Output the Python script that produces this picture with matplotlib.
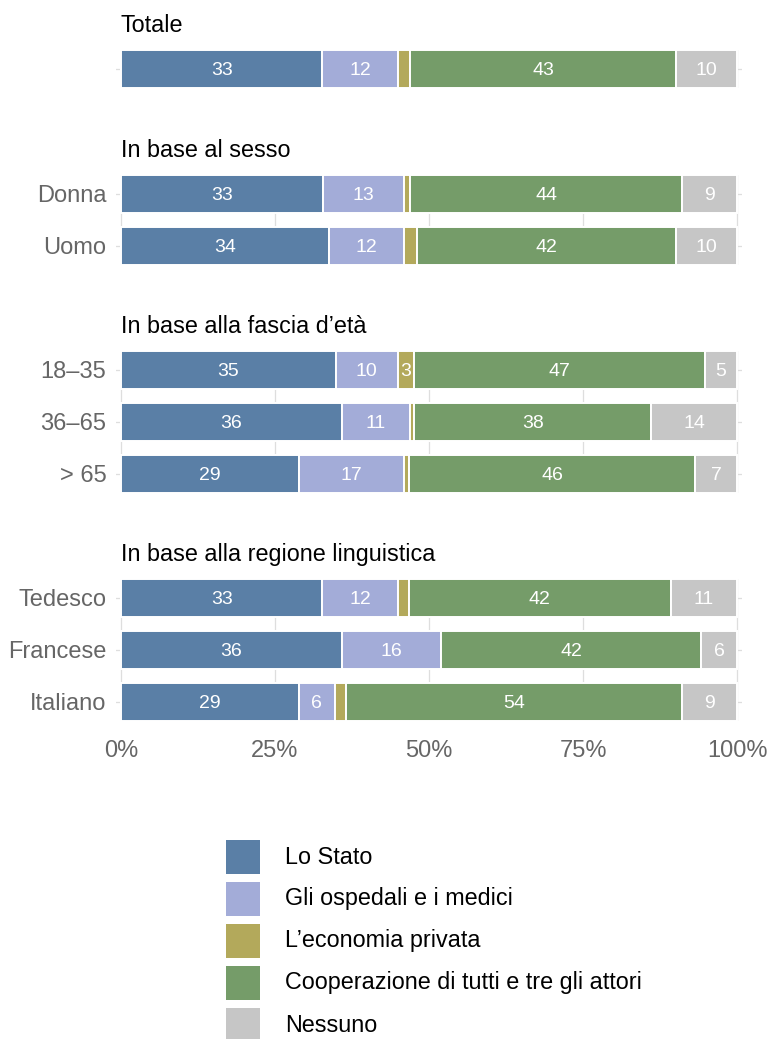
import matplotlib

matplotlib.use("Agg")
import matplotlib.pyplot as plt
from matplotlib.patches import Rectangle

plt.rcParams["font.family"] = ["Liberation Sans", "DejaVu Sans"]

# series names and colours
categories = ["Lo Stato", "Gli ospedali e i medici", "L’economia privata",
              "Cooperazione di tutti e tre gli attori", "Nessuno"]
colors = ["#5a7fa6", "#a3acd8", "#b3a95b", "#759c69", "#c6c6c6"]

# panels and their rows
panel_titles = ["Totale", "In base al sesso", "In base alla fascia d’età",
                "In base alla regione linguistica"]
panel_rows = [[""], ["Donna", "Uomo"], ["18–35", "36–65", "> 65"],
              ["Tedesco", "Francese", "Italiano"]]

# shares in %, one value per row (Totale, Donna, Uomo, 18-35, 36-65, >65,
# Tedesco, Francese, Italiano)
stato = [32.7, 32.8, 33.8, 34.9, 35.9, 28.9, 32.7, 35.9, 28.9]
ospedali = [12.3, 13.1, 12.1, 10.0, 11.0, 17.0, 12.3, 16.0, 5.8]
privata = [1.9, 1.0, 2.1, 2.7, 0.7, 0.9, 1.8, 0.0, 1.9]
coop = [43.2, 44.2, 42.1, 47.2, 38.5, 46.4, 42.4, 42.3, 54.4]
nessuno = [9.9, 8.9, 9.9, 5.2, 13.9, 6.8, 10.8, 5.8, 9.0]
series = [stato, ospedali, privata, coop, nessuno]

xticks = [0, 25, 50, 75, 100]
xticklabels = ["0%", "25%", "50%", "75%", "100%"]

W, H = 771, 1039
fig = plt.figure(figsize=(W / 100, H / 100), dpi=100)

row_px = 52
bar_h = 0.73
half = bar_h / 2
bar_tops = [50, 175, 351, 579]   # pixel top of first bar in each panel
left_px, right_px = 116, 742
grid_c = "#dedede"
label_c = "#666666"

start = 0
for p, (title, rows) in enumerate(zip(panel_titles, panel_rows)):
    n = len(rows)
    top = bar_tops[p]
    height = (n - 1 + bar_h) * row_px
    ax = fig.add_axes([left_px / W, 1 - (top + height) / H,
                       (right_px - left_px) / W, height / H])
    idx = list(range(start, start + n))
    start += n
    ypos = list(range(n))
    left = [0.0] * n
    for ser, col in zip(series, colors):
        vals = [ser[i] for i in idx]
        ax.barh(ypos, vals, left=left, height=bar_h, color=col,
                edgecolor="white", linewidth=1.4, zorder=2)
        for y, v, l0 in zip(ypos, vals, left):
            if v >= 2.5:
                ax.text(l0 + v / 2, y, f"{round(v)}", ha="center",
                        va="center_baseline", color="white", fontsize=14,
                        zorder=3)
        left = [a + b for a, b in zip(left, vals)]
    ax.set_xlim(-0.8, 100.8)
    ax.set_ylim(n - 1 + half, -half)
    ax.set_yticks(ypos)
    ax.set_yticklabels(rows, fontsize=17, color=label_c)
    ax.set_xticks(xticks)
    if p == len(panel_titles) - 1:
        ax.set_xticklabels(xticklabels, fontsize=17, color=label_c)
        ax.tick_params(axis="x", pad=14)
    else:
        ax.set_xticklabels([])
    ax.tick_params(length=0)
    ax.tick_params(axis="y", pad=7)
    ax.grid(True, color=grid_c, linewidth=0.9, zorder=0)
    ax.set_axisbelow(True)
    for s in ax.spines.values():
        s.set_visible(False)
    ax.annotate(title, xy=(0, 1), xycoords=("data", "axes fraction"),
                xytext=(0, 13), textcoords="offset points", va="baseline",
                ha="left", fontsize=16.8, color="black")

# legend
lax = fig.add_axes([0, 0, 1, 1])
lax.set_xlim(0, W)
lax.set_ylim(H, 0)
lax.axis("off")
for k, (name, col) in enumerate(zip(categories, colors)):
    y0 = 840 + k * 42
    lax.add_patch(Rectangle((226, y0), 34, 34, facecolor=col, edgecolor="none"))
    lax.text(285, y0 + 17, name, va="center", ha="left", fontsize=16.8,
             color="black")

fig.savefig("out.png", dpi=100)
